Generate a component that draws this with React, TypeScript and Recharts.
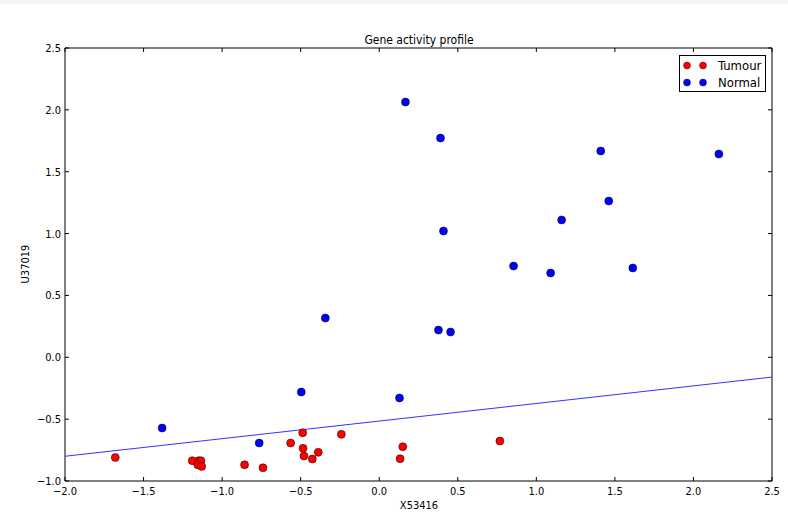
import React from "react";
import {
  ScatterChart,
  Scatter,
  XAxis,
  YAxis,
  ReferenceLine,
  ReferenceArea,
} from "recharts";

const tumourX = [-1.68, -1.19, -1.15, -1.135, -1.155, -1.13, -0.857, -0.74, -0.564, -0.487, -0.485, -0.479, -0.426, -0.388, -0.241, 0.15, 0.133, 0.768];
const tumourY = [-0.81, -0.836, -0.836, -0.836, -0.869, -0.882, -0.869, -0.893, -0.693, -0.61, -0.736, -0.798, -0.823, -0.768, -0.623, -0.723, -0.82, -0.677];

const normalX = [0.167, 0.39, 1.41, 2.162, 1.461, 1.161, 0.409, 0.855, 1.091, 1.614, -0.343, 0.377, 0.454, -0.496, 0.129, -1.382, -0.764];
const normalY = [2.063, 1.772, 1.667, 1.643, 1.263, 1.11, 1.021, 0.738, 0.681, 0.722, 0.317, 0.22, 0.204, -0.281, -0.329, -0.572, -0.693];

const fitLine = [
  { x: -2.0, y: -0.8 },
  { x: 2.5, y: -0.16 },
];

const xTicks = [-2.0, -1.5, -1.0, -0.5, 0.0, 0.5, 1.0, 1.5, 2.0, 2.5];
const yTicks = [-1.0, -0.5, 0.0, 0.5, 1.0, 1.5, 2.0, 2.5];

const tumourData = tumourX.map((x, i) => ({ x, y: tumourY[i] }));
const normalData = normalX.map((x, i) => ({ x, y: normalY[i] }));

const FONT = "'DejaVu Sans Condensed', 'Liberation Sans Narrow', 'DejaVu Sans', sans-serif";
const W = 788;
const H = 515;
const M = { top: 48, right: 16, bottom: 0, left: 0 };
const XAXIS_H = 34;
const YAXIS_W = 65;
const PW = W - YAXIS_W - M.right;
const PH = H - M.top - XAXIS_H;

const fmt = (v: number) => (v < 0 ? "\u2212" : "") + Math.abs(v).toFixed(1);

const XTick = (props: any) => {
  const { x, y, payload } = props;
  return (
    <g>
      <line x1={x} x2={x} y1={y} y2={y - 4} stroke="#000" strokeWidth={1} />
      <line x1={x} x2={x} y1={y - PH} y2={y - PH + 4} stroke="#000" strokeWidth={1} />
      <text x={x} y={y + 14} textAnchor="middle" fontSize={11} fontFamily={FONT} fill="#000">
        {fmt(payload.value)}
      </text>
    </g>
  );
};

const YTick = (props: any) => {
  const { x, y, payload } = props;
  return (
    <g>
      <line x1={x} x2={x + 4} y1={y} y2={y} stroke="#000" strokeWidth={1} />
      <line x1={x + PW} x2={x + PW - 4} y1={y} y2={y} stroke="#000" strokeWidth={1} />
      <text x={x - 4} y={y + 4} textAnchor="end" fontSize={11} fontFamily={FONT} fill="#000">
        {fmt(payload.value)}
      </text>
    </g>
  );
};

const Dot = (color: string) => (props: any) => {
  const { cx, cy } = props;
  return <circle cx={cx} cy={cy} r={4} fill={color} stroke="#000" strokeWidth={0.5} />;
};

const legendItems = [
  { name: "Tumour", color: "#ff0000" },
  { name: "Normal", color: "#0000ff" },
];

const LegendBox = () => (
  <div
    style={{
      position: "absolute",
      left: 679,
      top: 55,
      width: 87,
      height: 37,
      border: "1px solid #000",
      background: "#fff",
      boxSizing: "border-box",
      fontFamily: FONT,
      fontSize: 13,
      paddingTop: 1,
    }}
  >
    {legendItems.map((it) => (
      <div key={it.name} style={{ display: "flex", alignItems: "center", height: 17 }}>
        <svg width={38} height={17} style={{ flex: "none" }}>
          <circle cx={7} cy={8.5} r={3.5} fill={it.color} stroke="#000" strokeWidth={0.4} />
          <circle cx={23} cy={8.5} r={3.5} fill={it.color} stroke="#000" strokeWidth={0.4} />
        </svg>
        <span style={{ color: "#000" }}>{it.name}</span>
      </div>
    ))}
  </div>
);

export default function App() {
  return (
    <div style={{ position: "absolute", left: 0, top: 0, width: W, height: H, background: "#fff" }}>
      <div style={{ position: "absolute", left: 0, top: 0, width: W, height: 4, background: "#f3f4f6" }} />
      <ScatterChart width={W} height={H} margin={M}>
        <XAxis
          type="number"
          dataKey="x"
          domain={[-2, 2.5]}
          ticks={xTicks}
          interval={0}
          height={XAXIS_H}
          tickSize={0}
          tickMargin={0}
          axisLine={false}
          tickLine={false}
          tick={XTick}
          allowDataOverflow
        />
        <YAxis
          type="number"
          dataKey="y"
          domain={[-1, 2.5]}
          ticks={yTicks}
          interval={0}
          width={YAXIS_W}
          tickSize={0}
          tickMargin={0}
          axisLine={false}
          tickLine={false}
          tick={YTick}
          allowDataOverflow
        />
        <ReferenceArea x1={-2} x2={2.5} y1={-1} y2={2.5} fill="none" stroke="#000" strokeWidth={1} ifOverflow="visible" />
        <ReferenceLine segment={fitLine} stroke="#3333ff" strokeWidth={1} ifOverflow="visible" />
        <Scatter name="Tumour" data={tumourData} fill="#ff0000" shape={Dot("#ff0000")} isAnimationActive={false} />
        <Scatter name="Normal" data={normalData} fill="#0000ff" shape={Dot("#0000ff")} isAnimationActive={false} />
        <text x={419} y={44} textAnchor="middle" fontSize={12} fontFamily={FONT} fill="#000">
          Gene activity profile
        </text>
        <text x={419} y={509} textAnchor="middle" fontSize={11} fontFamily={FONT} fill="#000">
          X53416
        </text>
        <text
          x={29}
          y={264}
          textAnchor="middle"
          fontSize={11}
          fontFamily={FONT}
          fill="#000"
          transform="rotate(-90 29 264)"
        >
          U37019
        </text>
      </ScatterChart>
      <LegendBox />
    </div>
  );
}
